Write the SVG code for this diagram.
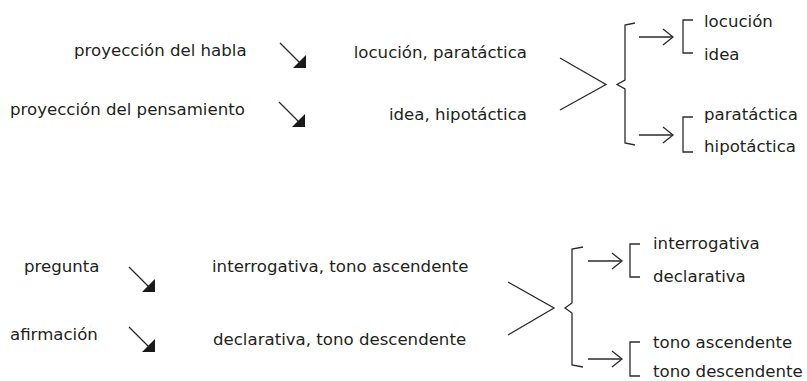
<svg xmlns="http://www.w3.org/2000/svg" xmlns:xlink="http://www.w3.org/1999/xlink" width="807" height="381" viewBox="0 0 807 381">
<style>
text{font-family:"DejaVu Sans","Liberation Sans",sans-serif;font-size:16.6px;fill:#231f20}
.ln{fill:none;stroke:#2b2b2b;stroke-width:1.3;stroke-linejoin:miter}
.hd{fill:#1a1a1a;stroke:none}
</style>
<defs>
<g id="darr">
<line class="ln" x1="0" y1="0" x2="20" y2="20"/>
<polygon class="hd" points="13,25 26,12 26,25"/>
</g>
<g id="harr">
<line class="ln" x1="0" y1="0" x2="34" y2="0"/>
<polyline class="ln" points="24,-8 34,0 24,8"/>
</g>
</defs>
<rect width="807" height="381" fill="#fff"/>

<g id="n-habla"><text x="74" y="56">proyección del habla</text></g>
<g id="n-pensamiento"><text x="10" y="115">proyección del pensamiento</text></g>
<g id="n-locucion-paratactica"><text x="527" y="58" text-anchor="end">locución, paratáctica</text></g>
<g id="n-idea-hipotactica"><text x="527" y="120" text-anchor="end">idea, hipotáctica</text></g>
<g id="n-locucion-idea">
<path class="ln" d="M693,20 L683,20 L683,53 L693,53"/>
<text x="704" y="27">locución</text>
<text x="704" y="60">idea</text>
</g>
<g id="n-para-hipo">
<path class="ln" d="M693,117 L683,117 L683,152 L693,152"/>
<text x="704" y="120">paratáctica</text>
<text x="704" y="152">hipotáctica</text>
</g>

<g id="n-pregunta"><text x="24" y="272">pregunta</text></g>
<g id="n-afirmacion"><text x="10" y="340">afirmación</text></g>
<g id="n-interrogativa-asc"><text x="212" y="272">interrogativa, tono ascendente</text></g>
<g id="n-declarativa-desc"><text x="213" y="345">declarativa, tono descendente</text></g>
<g id="n-inter-decl">
<path class="ln" d="M640,244 L630,244 L630,277 L640,277"/>
<text x="653" y="249">interrogativa</text>
<text x="653" y="282">declarativa</text>
</g>
<g id="n-tonos">
<path class="ln" d="M640,342 L630,342 L630,376 L640,376"/>
<text x="653" y="348">tono ascendente</text>
<text x="653" y="377">tono descendente</text>
</g>

<g id="connectors">
<use xlink:href="#darr" x="280" y="43"/>
<use xlink:href="#darr" x="279" y="102"/>
<use xlink:href="#darr" x="129" y="267"/>
<use xlink:href="#darr" x="129" y="327"/>
<polyline class="ln" points="560,58 606,84.5 560,110"/>
<path class="ln" d="M635,23 L625,25 L625,80 L617,84.5 L625,89 L625,143 L635,145"/>
<use xlink:href="#harr" x="639" y="37"/>
<use xlink:href="#harr" x="639" y="135"/>
<polyline class="ln" points="508,282 554,308 508,335"/>
<path class="ln" d="M583,247 L572,249 L572,303 L565,308 L572,313 L572,365 L583,367"/>
<use xlink:href="#harr" x="588" y="261"/>
<use xlink:href="#harr" x="588" y="359"/>
</g>
</svg>
